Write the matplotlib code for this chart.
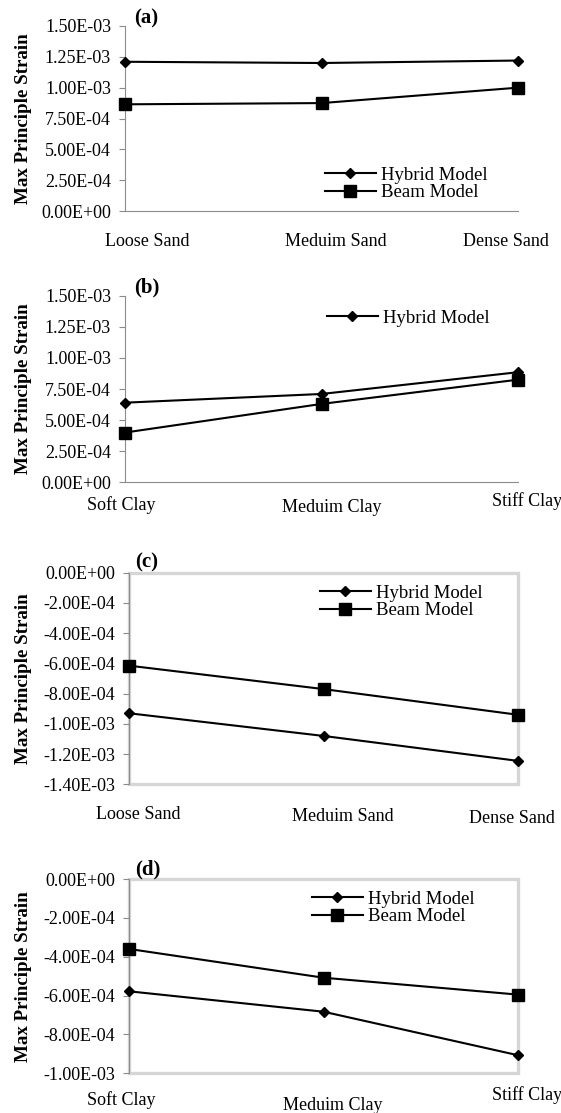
import numpy as np
import matplotlib
matplotlib.use("Agg")
import matplotlib.pyplot as plt
from matplotlib.patches import Rectangle
from matplotlib.ticker import FuncFormatter

plt.rcParams['font.family'] = ['Liberation Serif', 'DejaVu Serif']

# data
sand = ['Loose Sand', 'Meduim Sand', 'Dense Sand']
clay = ['Soft Clay', 'Meduim Clay', 'Stiff Clay']

a_hybrid = [1.21e-3, 1.20e-3, 1.22e-3]
a_beam = [0.865e-3, 0.875e-3, 1.00e-3]
b_hybrid = [0.64e-3, 0.71e-3, 0.885e-3]
b_beam = [0.40e-3, 0.63e-3, 0.825e-3]
c_hybrid = [-0.93e-3, -1.08e-3, -1.245e-3]
c_beam = [-0.615e-3, -0.77e-3, -0.94e-3]
d_hybrid = [-0.578e-3, -0.683e-3, -0.907e-3]
d_beam = [-0.36e-3, -0.508e-3, -0.595e-3]

pos_ticks = [0, 2.5e-4, 5e-4, 7.5e-4, 1e-3, 1.25e-3, 1.5e-3]
c_ticks = [-1.4e-3, -1.2e-3, -1e-3, -8e-4, -6e-4, -4e-4, -2e-4, 0]
d_ticks = [-1e-3, -8e-4, -6e-4, -4e-4, -2e-4, 0]

W, H = 561, 1113
fig = plt.figure(figsize=(W / 100, H / 100), dpi=100)


def fx(p):
	return p / W


def fy(p):
	return 1 - p / H


def excel_fmt(v, pos):
	if abs(v) < 1e-12:
		return "0.00E+00"
	return "%.2E" % v


def make_panel(left, top, right, bottom, ticks, hyb, beam, cats, lab_pos, tag, tag_pos,
			   leg_pos, show_beam=True, frame=False):
	ax = fig.add_axes([fx(left), fy(bottom), fx(right - left), (bottom - top) / H])
	x = np.arange(len(cats))
	ax.plot(x, hyb, color='black', lw=1.5, marker='D', ms=5.5, clip_on=False,
			label='Hybrid Model', zorder=5)
	ax.plot(x, beam, color='black', lw=1.5, marker='s', ms=8.5, clip_on=False,
			label='Beam Model', zorder=5)
	ax.set_xlim(0, 2)
	ax.set_ylim(ticks[0], ticks[-1])
	ax.set_yticks(ticks)
	ax.yaxis.set_major_formatter(FuncFormatter(excel_fmt))
	ax.set_xticks([])
	ax.tick_params(axis='y', direction='out', length=4, width=0.8, color='#8c8c8c',
				   pad=6, labelsize=13)
	for s in ['top', 'right']:
		ax.spines[s].set_visible(False)
	ax.spines['left'].set_color('#8c8c8c')
	ax.spines['bottom'].set_color('#8c8c8c')
	if frame:
		ax.spines['bottom'].set_visible(False)
		ax.add_patch(Rectangle((0, 0), 1, 1, transform=ax.transAxes, fill=False,
							   edgecolor='#d6d6d6', lw=2.4, clip_on=False, zorder=1))
	handles = ax.get_lines() if show_beam else ax.get_lines()[:1]
	ax.legend(handles=handles, loc='center left',
			  bbox_to_anchor=(fx(leg_pos[0]), fy(leg_pos[1])),
			  bbox_transform=fig.transFigure, frameon=False, fontsize=13.5,
			  handlelength=2.7, handletextpad=0.3, labelspacing=0.0,
			  borderpad=0, borderaxespad=0)
	for name, (px, py) in zip(cats, lab_pos):
		fig.text(fx(px), fy(py), name, ha='center', va='baseline', fontsize=13)
	fig.text(fx(tag_pos[0]), fy(tag_pos[1]), tag, ha='center', va='center',
			 fontsize=15, fontweight='bold')
	fig.text(fx(24), fy((top + bottom) / 2), 'Max Principle Strain', rotation=90,
			 ha='center', va='center', fontsize=13.7, fontweight='bold')
	return ax


make_panel(125, 26, 518, 211, pos_ticks, a_hybrid, a_beam, sand,
		   [(147, 246), (336, 246), (506, 246)], '(a)', (146, 18), (325, 184))
make_panel(125, 295.7, 518, 482.3, pos_ticks, b_hybrid, b_beam, clay,
		   [(121, 510), (332, 512), (527, 506)], '(b)', (147, 287), (327, 318),
		   show_beam=False)
make_panel(129, 572.7, 518, 784.3, c_ticks, c_hybrid, c_beam, sand,
		   [(138, 819), (343, 821), (512, 823)], '(c)', (147, 562), (320, 602),
		   frame=True)
make_panel(129, 879, 518, 1073.3, d_ticks, d_hybrid, d_beam, clay,
		   [(121, 1105), (333, 1110), (527, 1100)], '(d)', (148, 869), (312, 908),
		   frame=True)

fig.savefig('out.png', dpi=100)
